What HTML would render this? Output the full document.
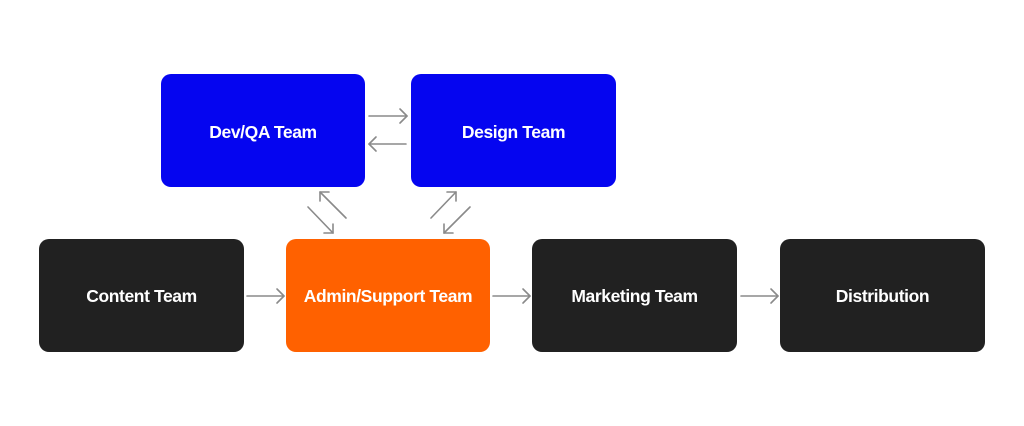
<!DOCTYPE html>
<html>
<head>
<meta charset="utf-8">
<style>
  html, body { margin:0; padding:0; background:#ffffff; }
  body { width:1024px; height:426px; position:relative; overflow:hidden; font-family:"Liberation Sans", Arial, sans-serif; }
  .box { position:absolute; border-radius:10px; color:#fff; font-weight:bold; font-size:17.5px; letter-spacing:-0.4px; display:flex; align-items:center; justify-content:center; box-sizing:border-box; }
  .top { padding-top:3px; }
  .bot { padding-top:2px; }
  .blue { background:#0505f0; }
  .black { background:#212121; }
  .orange { background:#ff6100; }
  svg { position:absolute; left:0; top:0; }
</style>
</head>
<body>
  <div class="box blue top" style="left:161px;top:74px;width:204px;height:113px;">Dev/QA Team</div>
  <div class="box blue top" style="left:411px;top:74px;width:205px;height:113px;">Design Team</div>
  <div class="box black bot" style="left:39px;top:239px;width:205px;height:113px;">Content Team</div>
  <div class="box orange bot" style="left:286px;top:239px;width:204px;height:113px;">Admin/Support Team</div>
  <div class="box black bot" style="left:532px;top:239px;width:205px;height:113px;">Marketing Team</div>
  <div class="box black bot" style="left:780px;top:239px;width:205px;height:113px;">Distribution</div>

  <svg width="1024" height="426" viewBox="0 0 1024 426" fill="none" stroke="#8a8a8a" stroke-width="1.6" stroke-linecap="round" stroke-linejoin="round">
    <line x1="369" y1="116" x2="407" y2="116"/>
    <polyline points="400,109 407,116 400,123"/>
    <line x1="406" y1="144" x2="369" y2="144"/>
    <polyline points="376,137 369,144 376,151"/>
    <line x1="247" y1="296" x2="284" y2="296"/>
    <polyline points="277,289 284,296 277,303"/>
    <line x1="493" y1="296" x2="530" y2="296"/>
    <polyline points="523,289 530,296 523,303"/>
    <line x1="741" y1="296" x2="778" y2="296"/>
    <polyline points="771,289 778,296 771,303"/>
    <line x1="346" y1="218" x2="320" y2="192"/>
    <polyline points="320,201 320,192 329,192"/>
    <line x1="308" y1="207" x2="333" y2="233"/>
    <polyline points="324,233 333,233 333,224"/>
    <line x1="431" y1="218" x2="456" y2="192"/>
    <polyline points="447,192 456,192 456,201"/>
    <line x1="470" y1="207" x2="444" y2="233"/>
    <polyline points="444,224 444,233 453,233"/>
  </svg>
</body>
</html>
